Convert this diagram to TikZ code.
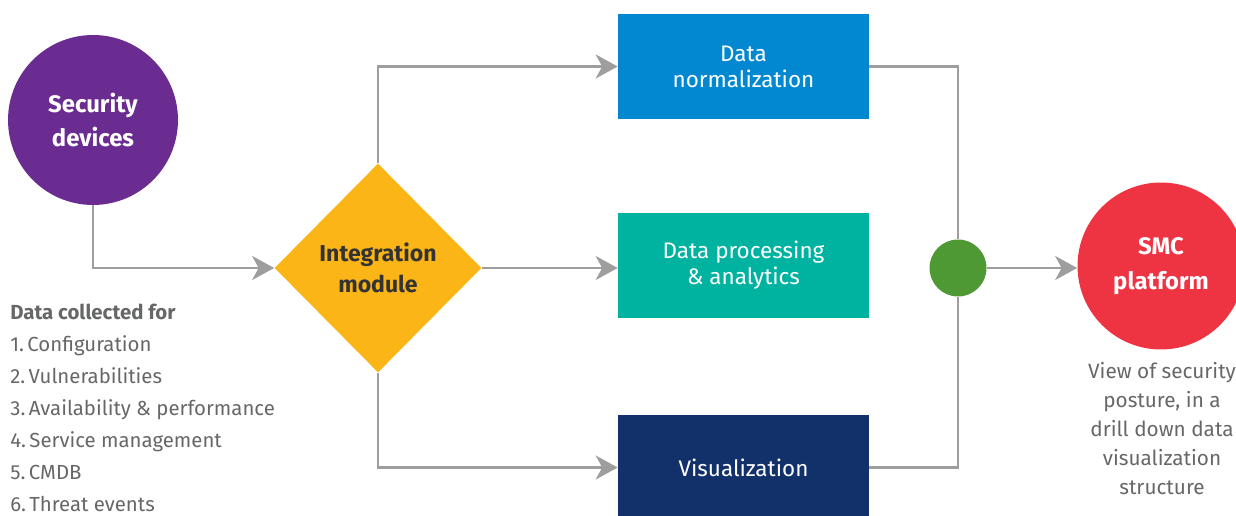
\documentclass[tikz,border=0pt]{standalone}
\usepackage{fontspec}
\setmainfont{Fira Sans}
\usetikzlibrary{arrows.meta, calc, shapes.geometric, positioning}
\definecolor{mPurple}{HTML}{6A2C91}
\definecolor{mBlue}{HTML}{0288D1}
\definecolor{mTeal}{HTML}{00B3A0}
\definecolor{mNavy}{HTML}{12316B}
\definecolor{mYellow}{HTML}{FBB516}
\definecolor{mGreen}{HTML}{4E9933}
\definecolor{mRed}{HTML}{EE3342}
\definecolor{mLine}{HTML}{9E9E9E}
\definecolor{mText}{HTML}{666769}
\definecolor{mDark}{HTML}{333333}
\tikzset{
  blob/.style={
    circle, inner sep=0, text=white, align=center, font=\fontsize{13.6}{19.8}\selectfont\bfseries
  },
  stage/.style={
    rectangle, minimum width=5.02cm, minimum height=2.1cm, inner sep=0, text=white, align=center,
    font=\fontsize{12.8}{14.8}\selectfont
  },
  conn/.style={
    draw=mLine, line width=1.4pt, -{Stealth[length=4.4mm, width=4.8mm, inset=1.3mm]}
  },
  plain/.style={
    draw=mLine, line width=1.4pt
  }
}
\begin{document}
\begin{tikzpicture}[x=0.02cm, y=-0.02cm]
        \useasboundingbox (0,0) rectangle (1236,516);
        \clip (0,0) rectangle (1236,516);
        \node[blob, minimum size=3.4cm, fill=mPurple] (sec) at (93,120) {Security\\devices};
        \node[diamond, minimum width=4.14cm, minimum height=4.18cm, inner sep=0, fill=mYellow, text=mDark, align=center, font=\fontsize{13.1}{18}\selectfont\bfseries] (integ) at (378,268) {Integration\\module};
        \node[stage, fill=mBlue] (norm) at (743.5,66.5) {Data\\normalization};
        \node[stage, fill=mTeal] (proc) at (743.5,265.5) {Data processing\\\& analytics};
        \node[stage, fill=mNavy] (vis) at (743.5,467.5) {Visualization};
        \node[circle, minimum size=1.14cm, inner sep=0, fill=mGreen] (hub) at (958,268) {};
        \node[blob, minimum size=3.34cm, fill=mRed] (smc) at (1161,266) {SMC\\platform};
        \node[anchor=north, align=center, text=mText, font=\fontsize{11.8}{16.5}\selectfont] (view) at (1162,356) {View of security\\posture, in a\\drill down data\\visualization\\structure};
        \node[anchor=north west, inner sep=0, align=left, text=mText, font=\fontsize{11.6}{18.2}\selectfont] (list) at (10,304) {\textbf{Data collected for}\\1.\,Configuration\\2.\,Vulnerabilities\\3.\,Availability \& performance\\4.\,Service management\\5.\,CMDB\\6.\,Threat events};
        % connectors
        \draw[conn] (sec.south) |- (integ.west);
        \draw[conn] (integ.north) |- (norm.west);
        \draw[conn] (integ.east) -- (integ.east -| proc.west);
        \draw[conn] (integ.south) |- (vis.west);
        \draw[plain] (norm.east) -| (hub.north);
        \draw[plain] (vis.east) -| (hub.south);
        \draw[conn] (hub.east) -- (hub.east -| smc.west);
    \end{tikzpicture}
\end{document}
